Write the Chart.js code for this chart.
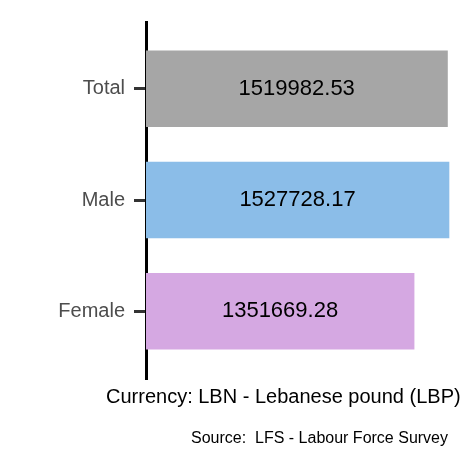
<!DOCTYPE html>
<html>
<head>
<meta charset="utf-8">
<script src="https://cdn.jsdelivr.net/npm/chart.js@4"></script>
<style>
  html, body { margin:0; padding:0; background:#fff; }
  #wrap { width:472px; height:472px; }
</style>
</head>
<body>
<div id="wrap"><canvas id="chart" width="472" height="472"></canvas></div>
<script>

//======================================================
// DATA
//======================================================

const categories = ["Total", "Male", "Female"];
const values = [1519982.53, 1527728.17, 1351669.28];
const barColors = ["#a6a6a6", "#8bbde8", "#d5a8e2"];
const axisTitle = "Currency: LBN - Lebanese pound (LBP)";
const sourceText = "Source:  LFS - Labour Force Survey";

//======================================================
// PLUGINS
//======================================================

const textPlugin = {
    id: "textPlugin",
    afterDatasetsDraw(chart){
        const ctx = chart.ctx;
        const meta = chart.getDatasetMeta(0);
        ctx.save();
        ctx.fillStyle = "#000";
        ctx.font = "22px 'Liberation Sans', Arial, sans-serif";
        ctx.textAlign = "center";
        ctx.textBaseline = "middle";
        meta.data.forEach(function(bar, i){
            const mid = (bar.base + bar.x) / 2;
            ctx.fillText(values[i].toFixed(2), mid, bar.y);
        });
        ctx.restore();
    },
    afterDraw(chart){
        const ctx = chart.ctx;
        ctx.save();
        ctx.fillStyle = "#000";
        ctx.font = "20px 'Liberation Sans', Arial, sans-serif";
        ctx.textAlign = "left";
        ctx.textBaseline = "middle";
        ctx.fillText(axisTitle, 106, 397);
        ctx.font = "16px 'Liberation Sans', Arial, sans-serif";
        ctx.textAlign = "right";
        ctx.fillText(sourceText, 448, 439);
        ctx.restore();
    }
};

//======================================================
// CHART
//======================================================

new Chart(document.getElementById("chart").getContext("2d"), {
    type: "bar",
    data: {
        datasets: [{
            data: values.map(function(v, i){ return {x: v, y: i}; }),
            backgroundColor: barColors,
            barThickness: 76,
            borderWidth: 0
        }]
    },
    options: {
        indexAxis: "y",
        responsive: false,
        animation: false,
        layout: { padding: { top: 22, bottom: 94, right: 0, left: 0 } },
        plugins: { legend: { display: false }, tooltip: { enabled: false } },
        scales: {
            x: { display: false, min: 0, max: 1643700 },
            y: {
                type: "linear",
                reverse: true,
                offset: false,
                min: -0.6,
                max: 2.6,
                afterFit: function(s){ s.width = 146; },
                afterBuildTicks: function(s){
                    s.ticks = [{value: 0}, {value: 1}, {value: 2}];
                },
                ticks: {
                    callback: function(v){ return categories[v]; },
                    color: "#4d4d4d",
                    font: { size: 20, family: "'Liberation Sans', Arial, sans-serif" },
                    padding: 9
                },
                grid: {
                    offset: false,
                    drawOnChartArea: false,
                    tickLength: 12,
                    lineWidth: 3,
                    color: "#333"
                },
                border: { color: "#000", width: 3 }
            }
        }
    },
    plugins: [textPlugin]
});

</script>
</body>
</html>
